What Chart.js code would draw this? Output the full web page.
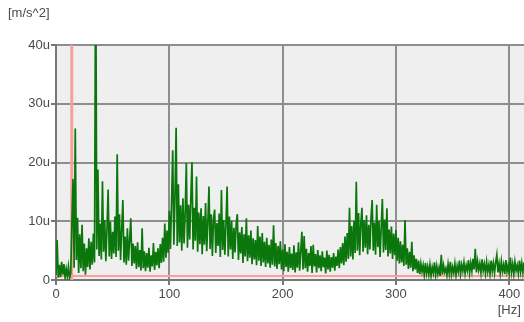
<!DOCTYPE html>
<html>
<head>
<meta charset="utf-8">
<script src="https://cdn.jsdelivr.net/npm/chart.js@4.4.1/dist/chart.umd.min.js"></script>
<style>
  html, body { margin: 0; padding: 0; background: #ffffff; overflow: hidden; }
  #wrap { width: 524px; height: 322px; position: relative; }
</style>
</head>
<body>
<div id="wrap"><canvas id="spectrum"></canvas></div>
<script>
// Acceleration spectrum, 1 Hz bins starting at 0 Hz, amplitude in micro m/s^2 (u)
const freqStepHz = 1;
const accel = [
  0.8, 6.8, 0.4, 2.6, 0.5, 3.1, 0.9, 2.7, 0.4, 1.9,
  0.6, 2.3, 0.3, 1.2, 9.5, 17.2, 2.1, 25.8, 3.4, 10.6,
  1.2, 7.8, 2.0, 9.4, 1.5, 6.2, 0.9, 5.4, 2.2, 7.1,
  1.8, 6.5, 2.6, 7.9, 3.0, 58.0, 5.2, 18.8, 4.1, 9.6,
  3.5, 16.8, 4.8, 10.2, 3.2, 8.7, 15.4, 4.0, 9.9, 3.6,
  8.2, 4.5, 10.8, 3.9, 21.4, 5.0, 11.2, 3.4, 8.6, 13.6,
  3.0, 7.4, 2.6, 8.8, 3.3, 6.9, 10.5, 2.4, 6.2, 2.8,
  5.8, 1.9, 6.4, 2.2, 5.1, 1.6, 8.8, 2.0, 4.9, 1.5,
  4.6, 2.1, 5.5, 1.4, 4.2, 2.3, 6.3, 1.7, 4.8, 2.5,
  5.4, 2.0, 6.1, 2.9, 7.2, 3.1, 9.6, 3.8, 8.4, 4.6,
  11.8, 5.3, 13.4, 22.1, 6.0, 14.2, 25.9, 5.8, 16.3, 6.4,
  12.7, 5.0, 13.9, 6.2, 11.4, 19.9, 5.5, 12.8, 6.9, 14.1,
  20.1, 5.2, 12.3, 6.7, 17.6, 4.8, 11.5, 6.1, 12.2, 4.4,
  10.9, 6.0, 13.1, 4.9, 9.8, 15.9, 5.3, 11.2, 4.1, 10.4,
  12.0, 4.6, 9.7, 5.8, 11.3, 3.9, 15.3, 5.1, 10.2, 4.3,
  9.6, 15.9, 4.0, 10.8, 5.2, 10.1, 3.6, 8.9, 4.7, 9.5,
  11.2, 3.4, 8.1, 4.5, 9.0, 2.9, 7.8, 4.0, 10.5, 3.2,
  7.6, 3.8, 8.4, 2.7, 7.1, 3.5, 6.8, 2.5, 9.2, 3.3,
  7.4, 2.4, 8.0, 3.0, 6.5, 2.2, 7.2, 2.8, 6.0, 2.1,
  6.9, 2.6, 9.3, 2.3, 6.3, 1.9, 5.8, 2.7, 6.6, 1.8,
  5.2, 1.5, 6.1, 2.2, 4.8, 1.4, 5.6, 2.0, 4.5, 1.7,
  5.9, 1.3, 4.7, 2.1, 6.4, 1.6, 5.0, 8.2, 1.8, 7.5,
  2.0, 5.3, 1.4, 4.6, 2.4, 5.8, 1.2, 6.0, 2.3, 4.4,
  1.3, 5.1, 2.0, 4.2, 1.5, 4.9, 2.2, 3.8, 1.1, 5.0,
  1.8, 4.3, 1.4, 3.9, 2.1, 4.6, 1.6, 4.0, 2.4, 5.2,
  2.0, 5.6, 2.8, 6.3, 2.5, 7.4, 3.1, 8.0, 3.6, 12.3,
  4.0, 9.2, 3.5, 10.1, 4.6, 16.7, 5.0, 11.4, 4.2, 9.6,
  12.3, 4.8, 10.2, 5.5, 11.0, 4.4, 9.4, 5.2, 10.6, 13.6,
  5.0, 9.8, 4.3, 12.8, 5.6, 10.1, 3.9, 9.0, 13.8, 4.7,
  10.3, 5.1, 12.2, 4.0, 8.6, 4.5, 9.1, 3.6, 7.9, 4.2,
  8.5, 3.3, 7.2, 2.8, 6.6, 3.0, 6.0, 2.4, 10.2, 2.6,
  5.4, 1.9, 4.8, 2.1, 6.5, 1.5, 4.2, 1.8, 3.6, 1.2,
  3.3, 1.0, 2.8, 1.4, 2.5, 0.8, 2.9, 1.1, 2.3, 0.9,
  2.6, 0.7, 2.2, 1.2, 3.0, 0.8, 2.4, 1.0, 2.1, 0.7,
  4.3, 0.9, 2.5, 1.3, 2.0, 0.8, 2.7, 1.1, 3.1, 0.9,
  2.2, 1.2, 2.8, 0.8, 2.4, 1.4, 3.3, 1.0, 2.6, 1.5,
  3.0, 1.1, 2.5, 1.6, 3.4, 1.2, 2.9, 1.5, 3.6, 1.8,
  5.3, 1.3, 3.2, 1.7, 2.8, 1.2, 3.5, 1.6, 2.7, 1.1,
  3.1, 1.4, 2.6, 1.0, 3.3, 1.5, 2.9, 1.2, 3.0, 4.3,
  1.3, 2.8, 1.1, 3.2, 1.5, 2.6, 1.0, 3.4, 1.4, 2.5,
  1.2, 3.8, 1.3, 2.7, 1.0, 3.1, 1.6, 2.5, 1.1, 3.3,
  1.4, 2.9, 1.2, 3.0
];

// Axis ticks and labels
const xTicks = [0, 100, 200, 300, 400];
const yTicks = [0, 10, 20, 30, 40];
const xMax = 413;
const yMax = 40;
const ampUnit = '[m/s^2]';
const freqUnit = '[Hz]';

// Reference lines: cutoff frequency marker and noise floor level
const markerFreq = 13.9;
const floorLevel = 0.7;

const tickFont = { family: 'Liberation Sans', size: 13, lineHeight: 1.2 };
const textColor = '#4a4a4a';

const spectrumPoints = accel.map((v, i) => ({ x: i * freqStepHz, y: v }));

const plotFrame = {
  id: 'plotFrame',
  beforeDraw(chart) {
    const { ctx, chartArea: a } = chart;
    ctx.save();
    ctx.fillStyle = '#efefef';
    ctx.fillRect(a.left, a.top, a.right - a.left, a.bottom - a.top);
    ctx.restore();
  },
  afterDraw(chart) {
    const { ctx } = chart;
    ctx.save();
    ctx.fillStyle = textColor;
    ctx.font = '13px "Liberation Sans"';
    ctx.textBaseline = 'middle';
    ctx.textAlign = 'left';
    ctx.fillText(ampUnit, 8, 13);
    ctx.restore();
  }
};

new Chart(document.getElementById('spectrum'), {
  type: 'line',
  data: {
    datasets: [
      {
        label: 'spectrum',
        data: spectrumPoints,
        borderColor: '#0b760b',
        borderWidth: 1.7,
        borderJoinStyle: 'miter',
        pointRadius: 0,
        tension: 0,
        fill: false
      },
      {
        label: 'marker',
        data: [{ x: markerFreq, y: 0 }, { x: markerFreq, y: yMax }],
        borderColor: '#f7a0a0',
        borderWidth: 3,
        pointRadius: 0
      },
      {
        label: 'floor',
        data: [{ x: 0, y: floorLevel }, { x: xMax, y: floorLevel }],
        borderColor: '#ff9c9c',
        borderWidth: 2,
        pointRadius: 0
      }
    ]
  },
  options: {
    responsive: true,
    maintainAspectRatio: false,
    animation: false,
    layout: { padding: { top: 45, left: 0, right: 0, bottom: 0 } },
    plugins: { legend: { display: false }, tooltip: { enabled: false } },
    scales: {
      x: {
        type: 'linear',
        min: 0,
        max: xMax,
        afterFit(s) { s.height = 42; },
        afterBuildTicks(s) { s.ticks = xTicks.map(v => ({ value: v })); },
        grid: { color: '#8e8e8e', lineWidth: 2, tickLength: 5, tickColor: '#777777' },
        border: { display: true, color: '#777777', width: 2 },
        ticks: {
          font: tickFont,
          color: textColor,
          padding: 2,
          maxRotation: 0,
          callback: v => v === xTicks[xTicks.length - 1] ? [String(v), freqUnit] : String(v)
        }
      },
      y: {
        type: 'linear',
        min: 0,
        max: yMax,
        afterFit(s) { s.width = 56; },
        afterBuildTicks(s) { s.ticks = yTicks.map(v => ({ value: v })); },
        grid: { color: '#8e8e8e', lineWidth: 2, tickLength: 5, tickColor: '#777777' },
        border: { display: true, color: '#777777', width: 2 },
        ticks: {
          font: tickFont,
          color: textColor,
          padding: 1,
          callback: v => v === 0 ? '0' : v + 'u'
        }
      }
    }
  },
  plugins: [plotFrame]
});
</script>
</body>
</html>
